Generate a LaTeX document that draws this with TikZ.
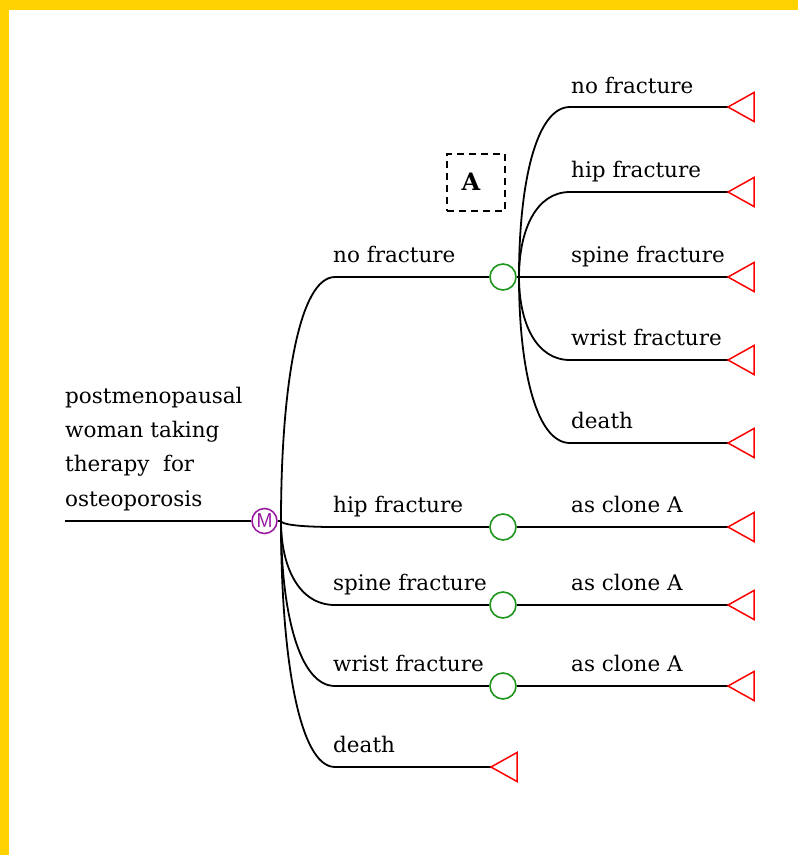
\documentclass[tikz,border=0pt]{standalone}
\usepackage{fontspec}
\setmainfont{DejaVu Serif}
\usetikzlibrary{calc}
\definecolor{framey}{RGB}{255,210,0}
\definecolor{decpurple}{RGB}{150,20,160}
\definecolor{chgreen}{RGB}{30,150,30}
\definecolor{termred}{RGB}{255,0,0}
\begin{document}
\begin{tikzpicture}[x=1pt,y=-1pt,
  branch/.style={line width=1.8pt,black},
  decision/.style={circle,draw=decpurple,line width=1.5pt,minimum size=25pt,inner sep=0pt,text=decpurple,font=\sffamily\fontsize{20}{20}\selectfont},
  chance/.style={circle,draw=chgreen,line width=1.6pt,minimum size=26pt,inner sep=0pt},
  termtri/.style={draw=termred,line width=1.5pt,line join=miter},
  lbl/.style={anchor=base west,inner sep=0pt,font=\fontsize{21.5}{34.3}\selectfont},
  clonebox/.style={draw,dashed,dash pattern=on 7pt off 5pt,line width=1.5pt,minimum width=58pt,minimum height=57pt,inner sep=0pt}
]
\useasboundingbox (0,0) rectangle (798,855);
\fill[white] (0,0) rectangle (798,855);
\fill[framey] (0,0) rectangle (798,10);
\fill[framey] (0,0) rectangle (9,855);

% root
\coordinate (root) at (65,521);
\node[decision] (m) at (264.5,521) {M};
\coordinate (mv) at (281,521);
\draw[branch] (root) -- (m.west);
\draw[branch] (m.east) -- (mv);
\node[lbl,align=left,anchor=base west] (rootlbl) at (65,506)
  {postmenopausal\\woman taking\\therapy\ \ for\\osteoporosis};

% first-level chance nodes and terminal
\node[chance] (c1) at (503,277) {};
\node[chance] (c2) at (503,527) {};
\node[chance] (c3) at (503,605) {};
\node[chance] (c4) at (503,686) {};
\coordinate (t0) at (491,767);

\foreach \n/\yy in {1/277,2/527,3/605,4/686,0/767}{
  \coordinate (s\n) at (335,\yy);
  \draw[branch] (mv) .. controls ($(mv)!0.55!(mv|-s\n)$) and ($(s\n)+(-36,0)$) .. (s\n);
}
\foreach \n in {1,2,3,4}{ \draw[branch] (s\n) -- (c\n.west); }
\draw[branch] (s0) -- (t0);

\node[lbl] (l1) at (333,262) {no fracture};
\node[lbl] (l2) at (333,512) {hip fracture};
\node[lbl] (l3) at (333,590) {spine fracture};
\node[lbl] (l4) at (333,671) {wrist fracture};
\node[lbl] (l0) at (333,752) {death};

% second level from c1
\coordinate (cv) at (519,277);
\draw[branch] (c1.east) -- (cv);
\foreach \n/\yy in {a/107,b/192,c/277,d/360,e/443}{
  \coordinate (u\n) at (570,\yy);
  \coordinate (tu\n) at (728,\yy);
  \draw[branch] (cv) .. controls ($(cv)!0.55!(cv|-u\n)$) and ($(u\n)+(-34,0)$) .. (u\n);
  \draw[branch] (u\n) -- (tu\n);
}
\node[lbl] (ua) at (571,93) {no fracture};
\node[lbl] (ub) at (571,177) {hip fracture};
\node[lbl] (uc) at (571,262) {spine fracture};
\node[lbl] (ud) at (571,345) {wrist fracture};
\node[lbl] (ue) at (571,428) {death};

% clone branches
\foreach \n/\yy in {2/527,3/605,4/686}{
  \coordinate (tc\n) at (728,\yy);
  \draw[branch] (c\n.east) -- (tc\n);
  \node[lbl] (cl\n) at (571,\yy-15) {as clone A};
}

% terminals
\foreach \t in {tua,tub,tuc,tud,tue,tc2,tc3,tc4,t0}{
  \draw[termtri] (\t) -- ++(26,-14.5) -- ++(0,29) -- cycle;
}

% clone box
\node[clonebox] (clone) at (476,182.5) {};
\node[inner sep=0pt,font=\bfseries\fontsize{24}{24}\selectfont] (cloneA) at (471,182) {A};
\end{tikzpicture}
\end{document}
